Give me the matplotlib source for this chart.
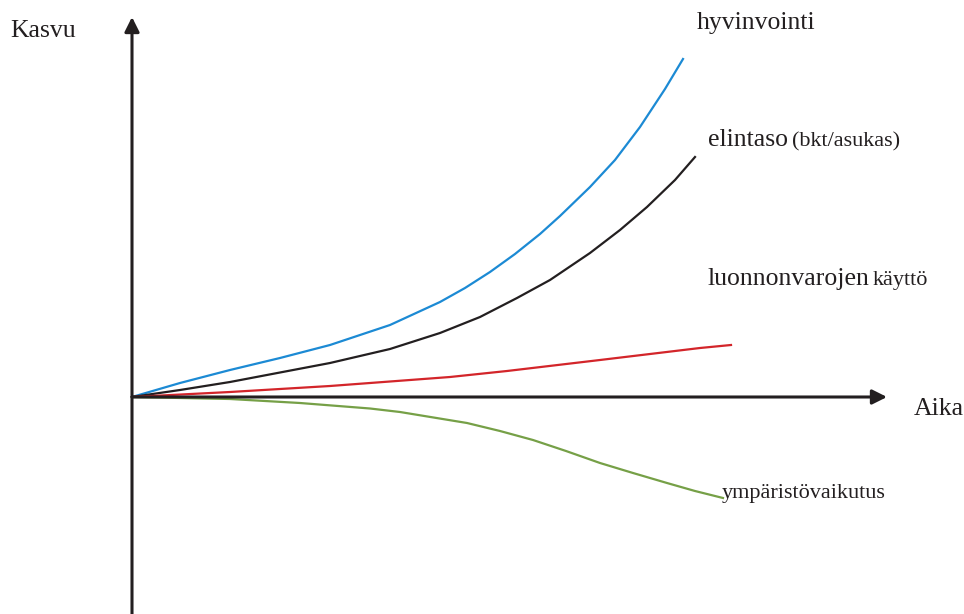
import matplotlib
matplotlib.use("Agg")
import matplotlib.pyplot as plt
import numpy as np

plt.rcParams['font.family'] = ['Liberation Serif', 'DejaVu Serif']

# curves (time, growth), origin where the axes cross
hyv_x = [0, 48, 98, 148, 198, 258, 308, 333, 358, 383, 408, 428, 458, 483, 508, 533, 551]
hyv_y = [0, 14, 27, 39, 52, 72, 95, 109, 125, 143, 163, 181, 210, 237, 270, 308, 338]
eli_x = [0, 48, 98, 198, 258, 308, 348, 385, 418, 458, 488, 515, 543, 563]
eli_y = [0, 7, 15, 34, 48, 64, 80, 99, 117, 144, 167, 190, 217, 240]
luo_x = [0, 98, 198, 318, 375, 468, 568, 599]
luo_y = [0, 5, 11, 20, 26, 37, 49, 52]
ymp_x = [0, 98, 168, 238, 268, 335, 368, 401, 434, 468, 501, 535, 563, 591]
ymp_y = [0, -2, -6, -11.5, -15, -26, -34, -43, -54, -66, -76, -86, -94, -101]

fig = plt.figure(figsize=(9.64, 6.14), dpi=100)
ax = fig.add_axes([0, 0, 1, 1])
ax.set_xlim(-132, 832)
ax.set_ylim(-217, 397)
ax.axis('off')

ink = '#231f20'
ax.plot(hyv_x, hyv_y, color='#1c8ad4', lw=1.6)
ax.plot(eli_x, eli_y, color=ink, lw=1.6)
ax.plot(luo_x, luo_y, color='#d3252a', lw=1.6)
ax.plot(ymp_x, ymp_y, color='#76a047', lw=1.6)

# axes as arrows
ax.annotate('', xy=(0, 380), xytext=(0, -217),
            arrowprops=dict(arrowstyle='-|>', lw=2.2, color=ink, mutation_scale=22,
                            shrinkA=0, shrinkB=0))
ax.annotate('', xy=(755, 0), xytext=(0, 0),
            arrowprops=dict(arrowstyle='-|>', lw=2.2, color=ink, mutation_scale=22,
                            shrinkA=0, shrinkB=0))

big = 18.5
small = 16
ax.text(-122, 360, 'Kasvu', fontsize=big, color=ink, va='baseline')
ax.text(782, -18, 'Aika', fontsize=big, color=ink, va='baseline')
ax.text(565, 368, 'hyvinvointi', fontsize=big, color=ink, va='baseline')
ax.text(576, 251, 'elintaso', fontsize=big, color=ink, va='baseline')
ax.text(660, 251, '(bkt/asukas)', fontsize=small, color=ink, va='baseline')
ax.text(576, 112, 'luonnonvarojen', fontsize=big, color=ink, va='baseline')
ax.text(741, 112, 'käyttö', fontsize=small, color=ink, va='baseline')
ax.text(590, -101, 'ympäristövaikutus', fontsize=small, color=ink, va='baseline')

plt.savefig('out.png', dpi=100)
